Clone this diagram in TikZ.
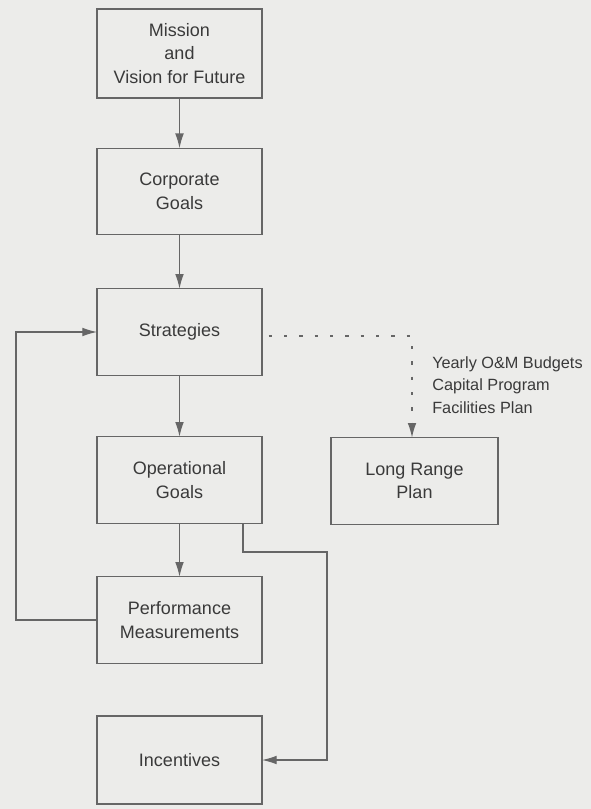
\documentclass[tikz,border=0pt]{standalone}
\usepackage{fontspec}
\setmainfont{Liberation Sans}
\usetikzlibrary{arrows.meta}
\definecolor{bgc}{HTML}{ECECEA}
\definecolor{linec}{HTML}{666666}
\definecolor{txtc}{HTML}{3A3A3A}
\begin{document}
\begin{tikzpicture}[x=0.75pt,y=-0.75pt,
  box/.style={draw=linec, line width=0.9pt, minimum width=123.75pt, minimum height=65pt,
    inner sep=0pt, outer sep=0pt, align=center, text=txtc,
    font=\fontsize{13.5}{17.8}\selectfont},
  link/.style={draw=linec, line width=0.8pt, -{Latex[length=11pt,width=6.5pt]}},
  dotlink/.style={draw=linec, line width=1pt, dash pattern=on 2.5pt off 9pt,
    -{Latex[length=11pt,width=6.5pt]}},
  sidetext/.style={text=txtc, align=left, inner sep=0pt, anchor=west,
    font=\fontsize{12.2}{17}\selectfont}]
\fill[bgc] (0,0) rectangle (591,809);
\useasboundingbox (0,0) rectangle (591,809);

\node[box, minimum height=66.75pt] (mission) at (179.5,53.5) {Mission\\and\\Vision for Future};
\node[box] (corp) at (179.5,191.5) {Corporate\\Goals};
\node[box] (strat) at (179.5,332) {Strategies};
\node[box] (oper) at (179.5,480) {Operational\\Goals};
\node[box] (perf) at (179.5,620) {Performance\\Measurements};
\node[box, minimum height=66pt] (inc) at (179.5,760) {Incentives};
\node[box, minimum width=125.25pt] (lrp) at (414.5,481) {Long Range\\Plan};

\node[sidetext] (side) at (432,385) {Yearly O\&M Budgets\\Capital Program\\Facilities Plan};

\coordinate (fb) at (16,0);
\coordinate (c1) at (243,552);
\coordinate (c2) at (327,552);
\coordinate (dv) at (412,0);

\draw[link] (mission) -- (corp);
\draw[link] (corp) -- (strat);
\draw[link] (strat) -- (oper);
\draw[link] (oper) -- (perf);
\draw[link] (perf.west) -- (perf.west -| fb) -- (strat.west -| fb) -- (strat.west);
\draw[link] (oper.south -| c1) -- (c1) -- (c2) |- (inc.east);
\draw[dotlink] ([xshift=5pt,yshift=-3pt]strat.east) -- ([yshift=-3pt]strat.east -| dv) -- (lrp.north -| dv);
\end{tikzpicture}
\end{document}
